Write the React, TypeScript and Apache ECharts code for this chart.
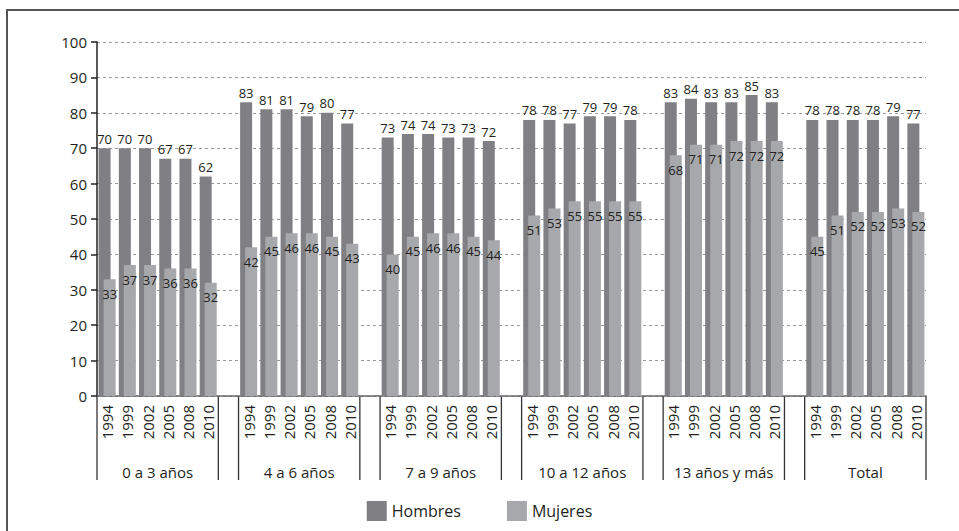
import React, { useEffect, useRef } from "react";
import * as echarts from "echarts";

const groups = ["0 a 3 años", "4 a 6 años", "7 a 9 años", "10 a 12 años", "13 años y más", "Total"];
const years = ["1994", "1999", "2002", "2005", "2008", "2010"];
const hombres = [
  [70, 70, 70, 67, 67, 62],
  [83, 81, 81, 79, 80, 77],
  [73, 74, 74, 73, 73, 72],
  [78, 78, 77, 79, 79, 78],
  [83, 84, 83, 83, 85, 83],
  [78, 78, 78, 78, 79, 77],
];
const mujeres = [
  [33, 37, 37, 36, 36, 32],
  [42, 45, 46, 46, 45, 43],
  [40, 45, 46, 46, 45, 44],
  [51, 53, 55, 55, 55, 55],
  [68, 71, 71, 72, 72, 72],
  [45, 51, 52, 52, 53, 52],
];
const yTicks = { min: 0, max: 100, interval: 10 };

const FONT = "'Open Sans', 'Noto Sans', sans-serif";
const TEXT = "#231f20";
const DARK = "#808084";
const LIGHT = "#a7a8ac";

export default function App() {
  const ref = useRef<HTMLDivElement>(null);
  useEffect(() => {
    document.body.style.margin = "0";
    if (!ref.current) return;
    const chart = echarts.init(ref.current, null, { renderer: "svg" });

    const cats: string[] = [];
    const hData: (number | null)[] = [];
    const mData: (number | null)[] = [];
    const groupRanges: [number, number][] = [];
    groups.forEach((g, gi) => {
      const start = cats.length;
      years.forEach((y, yi) => {
        cats.push(g + "|" + y);
        hData.push(hombres[gi][yi]);
        mData.push(mujeres[gi][yi]);
      });
      groupRanges.push([start, cats.length - 1]);
      if (gi < groups.length - 1) {
        cats.push("gap" + gi);
        hData.push(null);
        mData.push(null);
      }
    });

    chart.setOption({
      animation: false,
      textStyle: { fontFamily: FONT },
      grid: { left: 97, right: 33, top: 42, bottom: 135, containLabel: false },
      legend: {
        top: 496,
        left: "center",
        icon: "rect",
        itemWidth: 20,
        itemHeight: 20,
        itemGap: 46,
        textStyle: { fontSize: 16, color: TEXT, fontFamily: FONT },
        data: ["Hombres", "Mujeres"],
      },
      xAxis: {
        type: "category",
        data: cats,
        axisLine: { lineStyle: { color: "#666", width: 1.5 } },
        axisTick: { show: false },
        axisLabel: {
          interval: 0,
          rotate: 90,
          fontSize: 15,
          color: TEXT,
          margin: 9,
          fontFamily: FONT,
          formatter: (v: string) => (v.indexOf("|") >= 0 ? v.split("|")[1] : ""),
        },
      },
      yAxis: {
        type: "value",
        min: yTicks.min,
        max: yTicks.max,
        interval: yTicks.interval,
        axisLine: { show: true, lineStyle: { color: "#222", width: 1.5 } },
        axisTick: { show: true, length: 6, lineStyle: { color: "#222", width: 1.5 } },
        axisLabel: { fontSize: 15, color: TEXT, margin: 10, fontFamily: FONT },
        splitLine: { lineStyle: { color: "#999", type: [3, 3], width: 1 } },
      },
      series: [
        {
          name: "Hombres",
          type: "bar",
          data: hData,
          barWidth: 12,
          barGap: "-58%",
          itemStyle: { color: DARK },
          label: {
            show: true,
            position: "top",
            distance: 3,
            fontSize: 13,
            color: TEXT,
            fontFamily: FONT,
          },
        },
        {
          name: "Mujeres",
          type: "bar",
          data: mData,
          barWidth: 12,
          itemStyle: { color: LIGHT },
          label: {
            show: true,
            position: "insideTop",
            distance: 8,
            fontSize: 13,
            color: TEXT,
            fontFamily: FONT,
          },
        },
      ],
    });

    const x0 = chart.convertToPixel({ xAxisIndex: 0 }, 0) as number;
    const x1 = chart.convertToPixel({ xAxisIndex: 0 }, 1) as number;
    const band = x1 - x0;
    const axisY = chart.convertToPixel({ yAxisIndex: 0 }, 0) as number;
    const graphics: any[] = [
      {
        type: "rect",
        shape: { x: 7, y: 10, width: 980, height: 560 },
        style: { fill: "none", stroke: "#555", lineWidth: 2 },
        silent: true,
      },
    ];
    groupRanges.forEach(([s, e], gi) => {
      const left = (chart.convertToPixel({ xAxisIndex: 0 }, s) as number) - band / 2;
      const right = (chart.convertToPixel({ xAxisIndex: 0 }, e) as number) + band / 2;
      [left, right].forEach((x) => {
        graphics.push({
          type: "line",
          shape: { x1: x, y1: axisY, x2: x, y2: axisY + 84 },
          style: { stroke: "#333", lineWidth: 1.3 },
          silent: true,
        });
      });
      graphics.push({
        type: "text",
        x: (left + right) / 2,
        y: axisY + 76,
        style: {
          text: groups[gi],
          fontSize: 15,
          fontFamily: FONT,
          fill: TEXT,
          align: "center",
          verticalAlign: "middle",
        },
        silent: true,
      });
    });
    chart.setOption({ graphic: graphics });

    return () => chart.dispose();
  }, []);
  return <div ref={ref} style={{ width: 959, height: 531 }} />;
}
